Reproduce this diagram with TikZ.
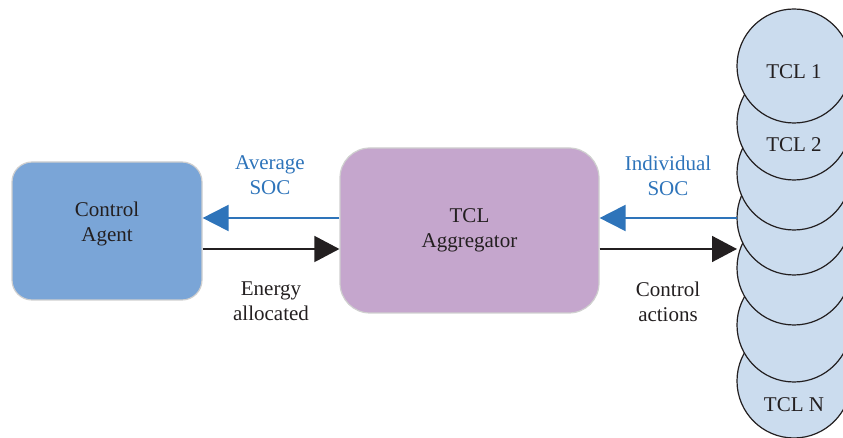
\documentclass[tikz,border=0pt]{standalone}
\usepackage{fontspec}
\setmainfont{Liberation Serif}
\usetikzlibrary{arrows.meta}
\definecolor{agentblue}{HTML}{7AA5D7}
\definecolor{aggpurple}{HTML}{C5A6CD}
\definecolor{tclfill}{HTML}{CBDCEE}
\definecolor{socblue}{HTML}{2E74BA}
\definecolor{ink}{HTML}{231F20}
\definecolor{edgegray}{HTML}{CFCFCF}
\tikzset{
  box/.style={draw=edgegray, line width=0.6pt, align=center, text=ink,
              font=\fontsize{10.5}{12.5}\selectfont},
  tcl/.style={circle, draw=ink, line width=0.6pt, fill=tclfill,
              minimum size=57pt, inner sep=0pt},
  tcltext/.style={text=ink, font=\fontsize{10.5}{12.5}\selectfont},
  lbl/.style={align=center, font=\fontsize{10.5}{12.5}\selectfont},
  socarrow/.style={draw=socblue, line width=1pt,
                   -{Triangle[length=13pt,width=13pt]}, socblue},
  ctlarrow/.style={draw=ink, line width=0.8pt,
                   -{Triangle[length=12.5pt,width=13pt]}, ink},
}
\begin{document}
\begin{tikzpicture}[x=0.5pt, y=-0.5pt]
  \useasboundingbox (0,0) rectangle (843,438);
  \clip (0,0) rectangle (843,438);

  % the two blocks
  \node[box, fill=agentblue, rounded corners=10pt,
        minimum width=95pt, minimum height=69pt] (agent) at (107,231) {};
  \node[tcltext, align=center] (agenttext) at (107,224) {Control\\Agent};
  \node[box, fill=aggpurple, rounded corners=15pt,
        minimum width=129.5pt, minimum height=82.5pt] (agg) at (469.5,230.5)
        {TCL\\Aggregator};

  % stack of TCL units, drawn bottom-up so the upper ones overlap
  \foreach \i/\cy in {7/381, 6/325, 5/268, 4/218, 3/173, 2/123, 1/66}
    \node[tcl] (tcl\i) at (794,\cy) {};
  \node[tcltext] (t1) at (794,72) {TCL 1};
  \node[tcltext] (t2) at (794,145) {TCL 2};
  \node[tcltext] (tN) at (794,405) {TCL N};

  % connection points on the stack
  \coordinate (stackin) at (737,218);
  \coordinate (stackout) at (737,249);

  % SOC feedback (blue) and control flow (black)
  \draw[socarrow] (agg.west |- stackin) -- (agent.east |- stackin);
  \draw[ctlarrow] (agent.east |- stackout) -- (agg.west |- stackout);
  \draw[socarrow] (stackin) -- (agg.east |- stackin);
  \draw[ctlarrow] (agg.east |- stackout) -- (stackout);

  % arrow labels
  \node[lbl, text=socblue] (avgsoc) at (270,175.5) {Average\\SOC};
  \node[lbl, text=ink] (energy) at (271,301.5) {Energy\\allocated};
  \node[lbl, text=socblue] (indsoc) at (668,175.5) {Individual\\SOC};
  \node[lbl, text=ink] (ctlact) at (668,302) {Control\\actions};
\end{tikzpicture}
\end{document}
